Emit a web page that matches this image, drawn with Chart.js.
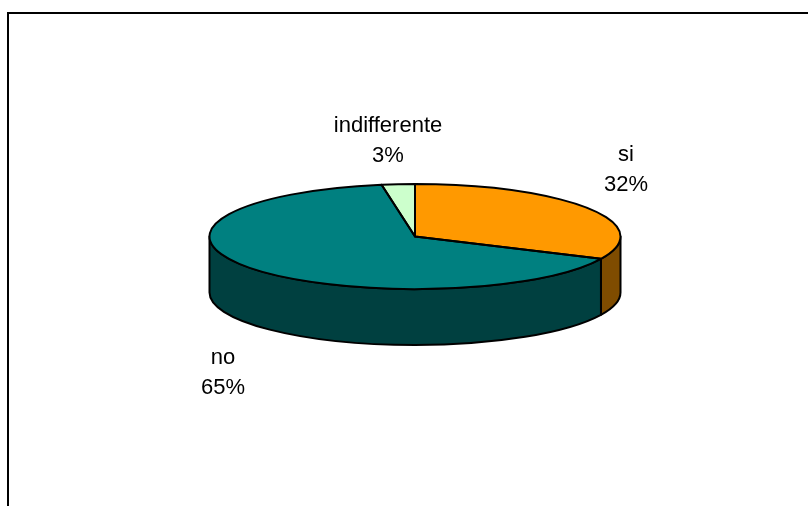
<!DOCTYPE html>
<html>
<head>
<meta charset="utf-8">
<style>
  html, body { margin:0; padding:0; background:#fff; overflow:hidden; }
  canvas { display:block; }
</style>
<script src="https://cdn.jsdelivr.net/npm/chart.js@4/dist/chart.umd.min.js"></script>
</head>
<body>
<canvas id="chart" width="808" height="506"></canvas>
<script>
// ---- data ----
const categories = ['si', 'no', 'indifferente'];
const percentages = [32, 65.4, 2.6];

// ---- colours ----
const topColors = ['#FF9900', '#008080', '#CCFFCC'];
const wallColors = ['#7F4C00', '#004040', '#668066'];

// ---- pie geometry: ellipse squash and wall height ----
const RADIUS = 205.5;
const SQUASH = 52.5 / 205.5;
const DEPTH = 56;
const LINE = 2;

// text anchors, one per category (centre x, first baseline y)
const labelSpots = [[626, 161], [223, 364], [388, 132]];
const LINE_GAP = 30;

function ellipseArc(ctx, x, y, from, to, ccw){
  ctx.ellipse(x, y, RADIUS, RADIUS * SQUASH, 0, from, to, ccw);
}

const fakePie3d = {
  id: 'fakePie3d',
  beforeDraw(chart){
    // outer frame, only left and top sides show
    const ctx = chart.ctx;
    ctx.save();
    ctx.strokeStyle = '#000';
    ctx.lineWidth = 2;
    ctx.beginPath();
    ctx.moveTo(8, 506);
    ctx.lineTo(8, 13);
    ctx.lineTo(808, 13);
    ctx.stroke();
    ctx.restore();
  },
  beforeDatasetDraw(chart){
    const ctx = chart.ctx;
    const arcs = chart.getDatasetMeta(0).data;
    const cx = arcs[0].x, cy = arcs[0].y;

    // walls, only the front half of the rim is visible
    ctx.save();
    ctx.lineWidth = LINE;
    ctx.strokeStyle = '#000';
    ctx.lineJoin = 'round';
    arcs.forEach((arc, i)=>{
      const from = Math.max(arc.startAngle, 0);
      const to = Math.min(arc.endAngle, Math.PI);
      if(to <= from) return;
      ctx.beginPath();
      ellipseArc(ctx, cx, cy, from, to, false);
      ellipseArc(ctx, cx, cy + DEPTH, to, from, true);
      ctx.closePath();
      ctx.fillStyle = wallColors[i];
      ctx.fill();
      ctx.stroke();
    });
    ctx.restore();

    // the library's own arcs, flattened into an ellipse
    ctx.save();
    ctx.translate(cx, cy);
    ctx.scale(1, SQUASH);
    ctx.translate(-cx, -cy);
  },
  afterDatasetDraw(chart){
    const ctx = chart.ctx;
    ctx.restore();

    const arcs = chart.getDatasetMeta(0).data;
    const cx = arcs[0].x, cy = arcs[0].y;

    // outlines after the restore so the line width is not squashed
    ctx.save();
    ctx.lineWidth = LINE;
    ctx.strokeStyle = '#000';
    ctx.lineJoin = 'round';
    arcs.forEach(arc=>{
      ctx.beginPath();
      ctx.moveTo(cx, cy);
      ellipseArc(ctx, cx, cy, arc.startAngle, arc.endAngle, false);
      ctx.closePath();
      ctx.stroke();
    });
    ctx.restore();

    // labels
    ctx.save();
    ctx.fillStyle = '#000';
    ctx.font = '22px "Liberation Sans", Arial, sans-serif';
    ctx.textAlign = 'center';
    ctx.textBaseline = 'alphabetic';
    categories.forEach((name, i)=>{
      const [x, y] = labelSpots[i];
      ctx.fillText(name, x, y);
      ctx.fillText(Math.round(percentages[i]) + '%', x, y + LINE_GAP);
    });
    ctx.restore();
  }
};

new Chart(document.getElementById('chart'), {
  type: 'pie',
  data: {
    labels: categories,
    datasets: [{
      data: percentages,
      backgroundColor: topColors,
      borderWidth: 0,
      radius: RADIUS,
      clip: false
    }]
  },
  options: {
    responsive: false,
    animation: false,
    layout: { padding: { left: 22, right: 0, top: 0, bottom: 33 } },
    plugins: { legend: { display: false }, tooltip: { enabled: false } }
  },
  plugins: [fakePie3d]
});
</script>
</body>
</html>
